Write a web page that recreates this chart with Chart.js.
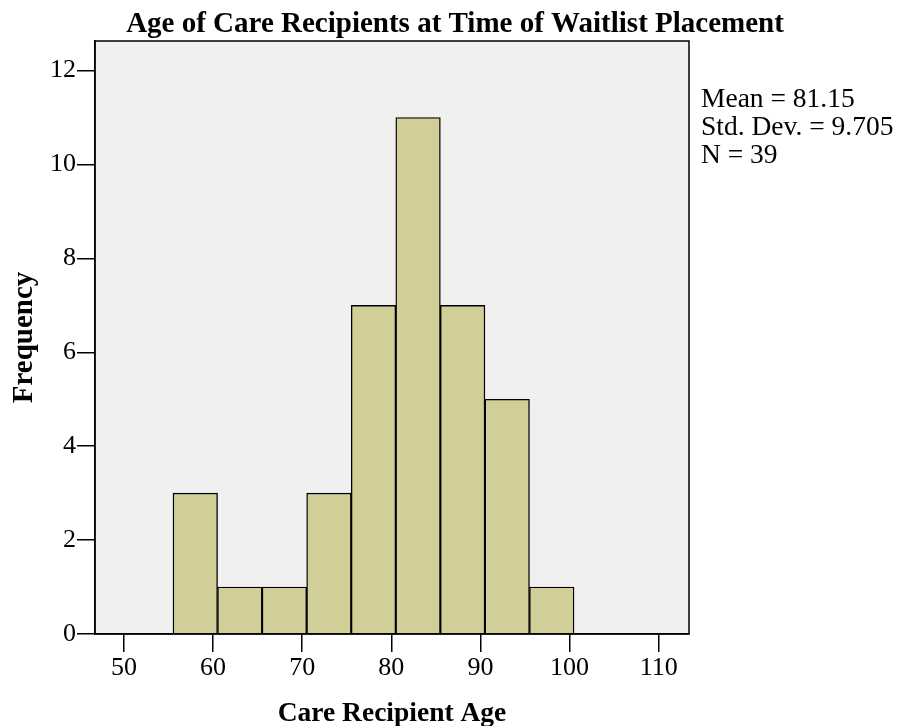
<!DOCTYPE html>
<html>
<head>
<meta charset="utf-8">
<script src="https://cdn.jsdelivr.net/npm/chart.js@4/dist/chart.umd.min.js"></script>
<style>
html,body{margin:0;padding:0;background:#fff;}
#wrap{position:relative;width:902px;height:726px;}
</style>
</head>
<body>
<div id="wrap"><canvas id="c" width="902" height="726"></canvas></div>
<script>
const binCenters = [58, 63, 68, 73, 78, 83, 88, 93, 98];
const frequencies = [3, 1, 1, 3, 7, 11, 7, 5, 1];
const xTickValues = [50, 60, 70, 80, 90, 100, 110];
const yTickValues = [0, 2, 4, 6, 8, 10, 12];
const statsLines = ["Mean = 81.15", "Std. Dev. = 9.705", "N = 39"];
const chartTitle = "Age of Care Recipients at Time of Waitlist Placement";
const xTitle = "Care Recipient Age";
const yTitle = "Frequency";

const SERIF = '"Liberation Serif", "Times New Roman", serif';

const frame = {
  id: 'frame',
  beforeDraw(chart) {
    const {ctx, chartArea: a} = chart;
    ctx.save();
    ctx.fillStyle = '#f0f0f0';
    ctx.fillRect(a.left, a.top, a.right - a.left, a.bottom - a.top);
    ctx.restore();
  },
  afterDraw(chart) {
    const {ctx, chartArea: a} = chart;
    ctx.save();
    ctx.strokeStyle = '#000';
    ctx.lineWidth = 1.5;
    ctx.strokeRect(a.left, a.top, a.right - a.left, a.bottom - a.top);
    ctx.fillStyle = '#000';
    // chart title
    ctx.font = 'bold 29px ' + SERIF;
    ctx.textAlign = 'center';
    ctx.textBaseline = 'alphabetic';
    ctx.fillText(chartTitle, 455, 32);
    // statistics box
    ctx.font = '27.5px ' + SERIF;
    ctx.textAlign = 'left';
    statsLines.forEach((t, i) => ctx.fillText(t, a.right + 12, 107 + i * 28));
    ctx.restore();
  }
};

new Chart(document.getElementById('c'), {
  type: 'bar',
  data: {
    datasets: [{
      data: binCenters.map((x, i) => ({x: x, y: frequencies[i]})),
      backgroundColor: '#d2ce98',
      borderColor: '#000',
      borderWidth: 1.4,
      barPercentage: 1,
      categoryPercentage: 1
    }]
  },
  options: {
    responsive: false,
    animation: false,
    devicePixelRatio: 1,
    layout: {padding: {left: 0, top: 41, right: 213, bottom: 0}},
    plugins: {
      legend: {display: false},
      tooltip: {enabled: false},
      title: {display: false}
    },
    scales: {
      x: {
        type: 'linear',
        min: 46.75,
        max: 113.4,
        offset: false,
        afterBuildTicks: s => { s.ticks = xTickValues.map(v => ({value: v})); },
        afterFit: s => { s.height = 92; },
        ticks: {color: '#000', font: {family: SERIF, size: 26}, padding: 1, maxRotation: 0, autoSkip: false},
        grid: {display: true, offset: false, drawOnChartArea: false, drawTicks: true, tickLength: 18, color: '#000', lineWidth: 1.5},
        border: {display: true, color: '#000', width: 1.5},
        title: {display: true, text: xTitle, color: '#000', font: {family: SERIF, size: 27.5, weight: 'bold'}, padding: {top: 0, bottom: -4}}
      },
      y: {
        min: 0,
        max: 12.63,
        afterBuildTicks: s => { s.ticks = yTickValues.map(v => ({value: v})); },
        afterFit: s => { s.width = 95; },
        ticks: {color: '#000', font: {family: SERIF, size: 26}, padding: 1},
        grid: {display: true, offset: false, drawOnChartArea: false, drawTicks: true, tickLength: 18, color: '#000', lineWidth: 1.5},
        border: {display: true, color: '#000', width: 1.5},
        title: {display: true, text: yTitle, color: '#000', font: {family: SERIF, size: 29, weight: 'bold'}, padding: {top: 7, bottom: 0}}
      }
    }
  },
  plugins: [frame]
});
</script>
</body>
</html>
